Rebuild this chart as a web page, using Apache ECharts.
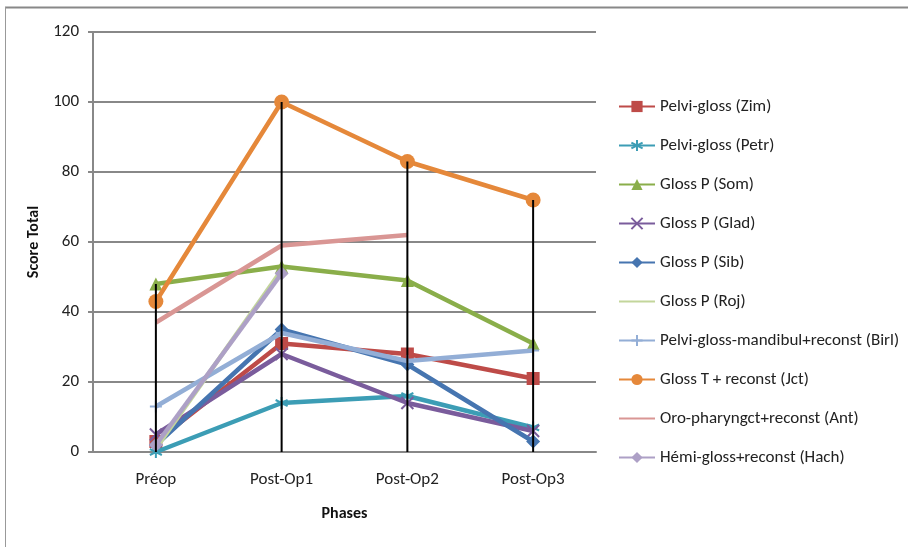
<!DOCTYPE html>
<html>
<head>
<meta charset="utf-8">
<script src="https://cdn.jsdelivr.net/npm/echarts@6/dist/echarts.min.js"></script>
<style>
  html, body { margin: 0; padding: 0; background: #fff; }
  #chart { width: 908px; height: 547px; }
</style>
</head>
<body>
<div id="chart"></div>
<script>
// phases on the x axis
var phases = ["Préop", "Post-Op1", "Post-Op2", "Post-Op3"];
var yTicks = [0, 20, 40, 60, 80, 100, 120];

// scores per series (null = no measure)
var zim  = [3, 31, 28, 21];
var petr = [0, 14, 16, 7];
var som  = [48, 53, 49, 31];
var glad = [5, 28, 14, 6];
var sib  = [2, 35, 25, 3];
var roj  = [1, 52, null, null];
var birl = [13, 34, 26, 29];
var jct  = [43, 100, 83, 72];
var ant  = [37, 59, 62, null];
var hach = [2, 51, null, null];

var names = [
  "Pelvi-gloss (Zim)",
  "Pelvi-gloss (Petr)",
  "Gloss P (Som)",
  "Gloss P (Glad)",
  "Gloss P (Sib)",
  "Gloss P (Roj)",
  "Pelvi-gloss-mandibul+reconst (Birl)",
  "Gloss T + reconst (Jct)",
  "Oro-pharyngct+reconst (Ant)",
  "Hémi-gloss+reconst (Hach)"
];
var allData = [zim, petr, som, glad, sib, roj, birl, jct, ant, hach];

var colors = ["#BE4B48", "#3C9DB5", "#8AAE4A", "#7A5C9C", "#4675B0",
              "#C3D69B", "#93AED6", "#E5883A", "#D99694", "#ADA0C6"];
var symbols = [
  "rect",
  "path://M0,-1L0,1M-0.87,-0.5L0.87,0.5M-0.87,0.5L0.87,-0.5",
  "triangle",
  "path://M-1,-1L1,1M-1,1L1,-1",
  "diamond",
  "none",
  "path://M0,-1L0,1M-1,0L1,0",
  "circle",
  "none",
  "diamond"
];
var sizes = [13, 12, 13, 12, 14, 0, 12, 15, 0, 14];

// high point per phase, for the drop lines
var dropTop = phases.map(function (p, i) {
  var m = 0;
  allData.forEach(function (s) { if (s[i] != null && s[i] > m) m = s[i]; });
  return m;
});

var font = "Carlito, 'Liberation Sans Narrow', 'Open Sans', sans-serif";

var chart = echarts.init(document.getElementById("chart"));

var series = names.map(function (n, i) {
  var isStroke = symbols[i].indexOf("path://") === 0;
  return {
    name: n,
    type: "line",
    data: allData[i],
    symbol: symbols[i],
    symbolSize: sizes[i],
    showSymbol: symbols[i] !== "none",
    connectNulls: false,
    lineStyle: { width: 4.5, color: colors[i] },
    itemStyle: {
      color: colors[i],
      borderColor: colors[i],
      borderWidth: isStroke ? 2 : 0
    },
    z: 2 + i,
    animation: false
  };
});

series.push({
  name: "drop",
  type: "bar",
  data: dropTop,
  barWidth: 2,
  itemStyle: { color: "#000" },
  z: 20,
  animation: false
});

// legend entries: plain line (no marker) for series drawn without symbol
var legendData = names.map(function (n, i) {
  if (symbols[i] === "none") {
    return { name: n, itemStyle: { opacity: 0 } };
  }
  return { name: n };
});

var option = {
  animation: false,
  textStyle: { fontFamily: font },
  graphic: [
    {
      type: "line",
      shape: { x1: 5, y1: 7.5, x2: 908, y2: 7.5 },
      style: { stroke: "#888", lineWidth: 2 },
      silent: true
    },
    {
      type: "line",
      shape: { x1: 5.5, y1: 7, x2: 5.5, y2: 547 },
      style: { stroke: "#999", lineWidth: 1 },
      silent: true
    }
  ],
  grid: { left: 93, right: 312, top: 32, bottom: 95 },
  legend: {
    data: legendData,
    orient: "vertical",
    left: 613,
    top: 93,
    itemWidth: 36,
    itemHeight: 14,
    itemGap: 22,
    textStyle: { fontSize: 17, color: "#222", fontFamily: font }
  },
  xAxis: {
    type: "category",
    data: phases,
    boundaryGap: true,
    name: "Phases",
    nameLocation: "middle",
    nameGap: 54,
    nameTextStyle: { fontSize: 16, fontWeight: "bold", color: "#111", fontFamily: font },
    axisLine: { lineStyle: { color: "#888", width: 2 } },
    axisTick: { show: false },
    axisLabel: { fontSize: 17, color: "#222", margin: 19 }
  },
  yAxis: {
    type: "value",
    min: yTicks[0],
    max: yTicks[yTicks.length - 1],
    interval: yTicks[1] - yTicks[0],
    name: "Score Total",
    nameLocation: "middle",
    nameGap: 47,
    nameTextStyle: { fontSize: 16, fontWeight: "bold", color: "#111", fontFamily: font },
    axisLine: { show: true, lineStyle: { color: "#888", width: 2 } },
    axisTick: { show: true, length: 5, lineStyle: { color: "#888", width: 2 } },
    axisLabel: { fontSize: 17, color: "#222", margin: 14 },
    splitLine: { lineStyle: { color: "#888", width: 2 } }
  },
  series: series
};

chart.setOption(option);
window.addEventListener("resize", function () { chart.resize(); });
</script>
</body>
</html>
